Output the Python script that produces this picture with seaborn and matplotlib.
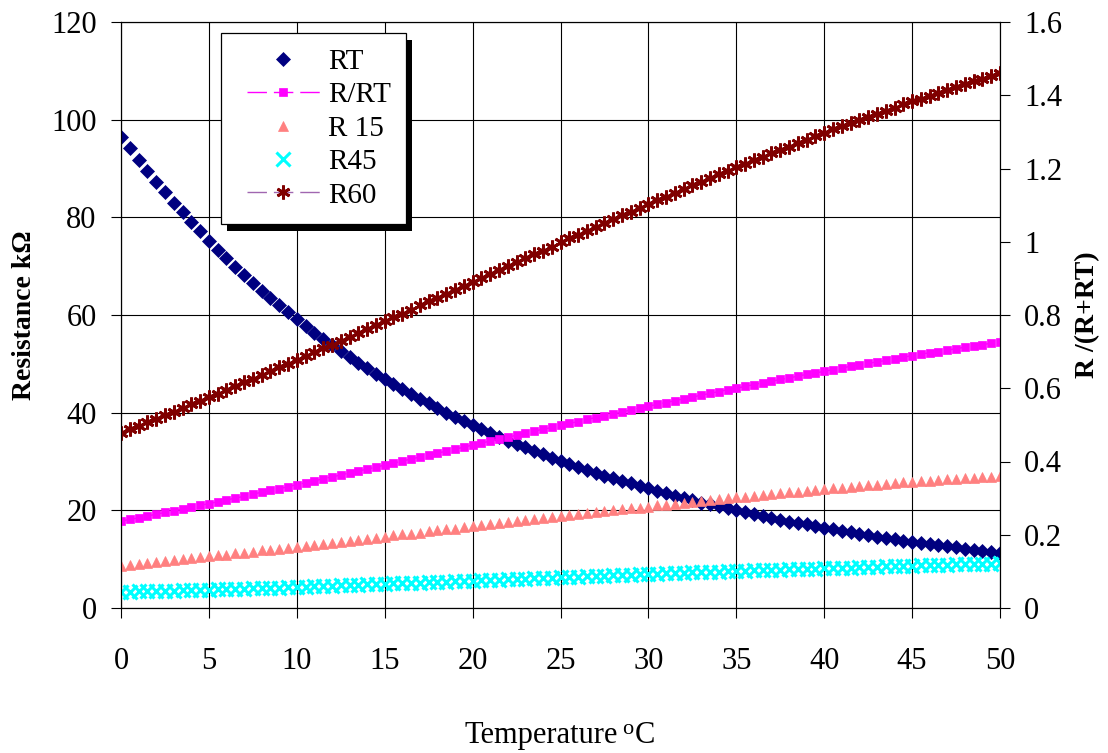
import matplotlib
matplotlib.use("Agg")
import matplotlib.pyplot as plt
from matplotlib.lines import Line2D
from matplotlib.legend_handler import HandlerLine2D
from matplotlib.patches import Rectangle
import seaborn as sns

# Temperature steps (deg C)
temperature = [
    0.0, 0.5, 1.0, 1.5, 2.0, 2.5, 3.0, 3.5, 4.0, 4.5,
    5.0, 5.5, 6.0, 6.5, 7.0, 7.5, 8.0, 8.5, 9.0, 9.5,
    10.0, 10.5, 11.0, 11.5, 12.0, 12.5, 13.0, 13.5, 14.0, 14.5,
    15.0, 15.5, 16.0, 16.5, 17.0, 17.5, 18.0, 18.5, 19.0, 19.5,
    20.0, 20.5, 21.0, 21.5, 22.0, 22.5, 23.0, 23.5, 24.0, 24.5,
    25.0, 25.5, 26.0, 26.5, 27.0, 27.5, 28.0, 28.5, 29.0, 29.5,
    30.0, 30.5, 31.0, 31.5, 32.0, 32.5, 33.0, 33.5, 34.0, 34.5,
    35.0, 35.5, 36.0, 36.5, 37.0, 37.5, 38.0, 38.5, 39.0, 39.5,
    40.0, 40.5, 41.0, 41.5, 42.0, 42.5, 43.0, 43.5, 44.0, 44.5,
    45.0, 45.5, 46.0, 46.5, 47.0, 47.5, 48.0, 48.5, 49.0, 49.5,
    50.0,
]

# Thermistor resistance (kOhm, left axis)
rt = [
    96.5, 94.1, 91.7, 89.5, 87.3, 85.1, 83.0, 81.0, 79.0, 77.1,
    75.2, 73.4, 71.6, 69.9, 68.2, 66.6, 65.0, 63.5, 62.0, 60.6,
    59.1, 57.8, 56.4, 55.1, 53.8, 52.6, 51.4, 50.2, 49.1, 48.0,
    46.9, 45.8, 44.8, 43.8, 42.8, 41.9, 40.9, 40.0, 39.2, 38.3,
    37.5, 36.6, 35.9, 35.1, 34.3, 33.6, 32.9, 32.2, 31.5, 30.8,
    30.2, 29.5, 28.9, 28.3, 27.7, 27.1, 26.6, 26.0, 25.5, 25.0,
    24.5, 24.0, 23.5, 23.0, 22.5, 22.1, 21.6, 21.2, 20.8, 20.4,
    20.0, 19.6, 19.2, 18.8, 18.5, 18.1, 17.7, 17.4, 17.1, 16.7,
    16.4, 16.1, 15.8, 15.5, 15.2, 14.9, 14.6, 14.4, 14.1, 13.8,
    13.6, 13.3, 13.1, 12.8, 12.6, 12.4, 12.1, 11.9, 11.7, 11.5,
    11.3,
]

# Divider ratios (right axis)
r_over_rt = [
    0.237, 0.242, 0.246, 0.251, 0.256, 0.261, 0.266, 0.270, 0.275, 0.280,
    0.285, 0.290, 0.295, 0.300, 0.305, 0.311, 0.316, 0.321, 0.326, 0.331,
    0.337, 0.342, 0.347, 0.353, 0.358, 0.363, 0.369, 0.374, 0.379, 0.385,
    0.390, 0.396, 0.401, 0.407, 0.412, 0.417, 0.423, 0.428, 0.434, 0.439,
    0.445, 0.450, 0.456, 0.461, 0.466, 0.472, 0.477, 0.483, 0.488, 0.493,
    0.499, 0.504, 0.509, 0.515, 0.520, 0.525, 0.530, 0.535, 0.541, 0.546,
    0.551, 0.556, 0.561, 0.566, 0.571, 0.576, 0.581, 0.586, 0.591, 0.596,
    0.600, 0.605, 0.610, 0.615, 0.619, 0.624, 0.628, 0.633, 0.638, 0.642,
    0.646, 0.651, 0.655, 0.660, 0.664, 0.668, 0.672, 0.676, 0.680, 0.685,
    0.689, 0.693, 0.697, 0.700, 0.704, 0.708, 0.712, 0.716, 0.719, 0.723,
    0.727,
]

r15 = [
    0.116, 0.118, 0.121, 0.123, 0.126, 0.128, 0.131, 0.133, 0.136, 0.138,
    0.141, 0.144, 0.146, 0.149, 0.151, 0.154, 0.157, 0.159, 0.162, 0.164,
    0.167, 0.170, 0.173, 0.175, 0.178, 0.181, 0.184, 0.187, 0.189, 0.192,
    0.195, 0.198, 0.201, 0.203, 0.206, 0.209, 0.212, 0.215, 0.217, 0.220,
    0.223, 0.226, 0.229, 0.231, 0.234, 0.237, 0.240, 0.243, 0.245, 0.248,
    0.251, 0.254, 0.256, 0.259, 0.261, 0.264, 0.267, 0.269, 0.272, 0.274,
    0.277, 0.280, 0.282, 0.285, 0.287, 0.290, 0.292, 0.295, 0.297, 0.300,
    0.302, 0.304, 0.307, 0.309, 0.311, 0.314, 0.316, 0.318, 0.320, 0.323,
    0.325, 0.327, 0.329, 0.331, 0.333, 0.335, 0.337, 0.339, 0.341, 0.343,
    0.345, 0.347, 0.348, 0.350, 0.351, 0.353, 0.355, 0.356, 0.358, 0.359,
    0.361,
]

r45 = [
    0.0440, 0.0446, 0.0452, 0.0458, 0.0464, 0.0470, 0.0476, 0.0482, 0.0488, 0.0494,
    0.0500, 0.0507, 0.0514, 0.0521, 0.0528, 0.0535, 0.0542, 0.0549, 0.0556, 0.0563,
    0.0570, 0.0579, 0.0588, 0.0597, 0.0606, 0.0615, 0.0624, 0.0633, 0.0642, 0.0651,
    0.0660, 0.0669, 0.0678, 0.0687, 0.0696, 0.0705, 0.0714, 0.0723, 0.0732, 0.0741,
    0.0750, 0.0759, 0.0768, 0.0777, 0.0786, 0.0795, 0.0804, 0.0813, 0.0822, 0.0831,
    0.0840, 0.0849, 0.0858, 0.0867, 0.0876, 0.0885, 0.0894, 0.0903, 0.0912, 0.0921,
    0.0930, 0.0938, 0.0946, 0.0954, 0.0962, 0.0970, 0.0978, 0.0986, 0.0994, 0.1002,
    0.1010, 0.1017, 0.1024, 0.1031, 0.1038, 0.1045, 0.1052, 0.1059, 0.1066, 0.1073,
    0.1080, 0.1088, 0.1096, 0.1104, 0.1112, 0.1120, 0.1128, 0.1136, 0.1144, 0.1152,
    0.1160, 0.1166, 0.1172, 0.1178, 0.1184, 0.1190, 0.1196, 0.1202, 0.1208, 0.1214,
    0.1220,
]

r60 = [
    0.478, 0.488, 0.497, 0.507, 0.517, 0.527, 0.536, 0.546, 0.556, 0.565,
    0.575, 0.585, 0.595, 0.606, 0.616, 0.626, 0.636, 0.646, 0.657, 0.667,
    0.677, 0.688, 0.698, 0.709, 0.719, 0.730, 0.741, 0.751, 0.762, 0.772,
    0.783, 0.794, 0.804, 0.815, 0.826, 0.837, 0.847, 0.858, 0.869, 0.879,
    0.890, 0.901, 0.912, 0.922, 0.933, 0.944, 0.955, 0.966, 0.976, 0.987,
    0.998, 1.009, 1.019, 1.030, 1.040, 1.051, 1.061, 1.072, 1.082, 1.093,
    1.103, 1.113, 1.123, 1.133, 1.143, 1.154, 1.164, 1.174, 1.184, 1.194,
    1.204, 1.213, 1.223, 1.232, 1.242, 1.251, 1.260, 1.270, 1.279, 1.289,
    1.298, 1.307, 1.315, 1.324, 1.332, 1.341, 1.349, 1.358, 1.366, 1.375,
    1.383, 1.391, 1.399, 1.406, 1.414, 1.422, 1.430, 1.438, 1.445, 1.453,
    1.461,
]

series_labels = ["RT", "R/RT", "R 15", "R45", "R60"]
x_ticks = [0, 5, 10, 15, 20, 25, 30, 35, 40, 45, 50]
left_ticks = [0, 20, 40, 60, 80, 100, 120]
right_ticks = [0, 0.2, 0.4, 0.6, 0.8, 1.0, 1.2, 1.4, 1.6]
right_tick_labels = ["0", "0.2", "0.4", "0.6", "0.8", "1", "1.2", "1.4", "1.6"]

sns.set_style("white")
plt.rcParams.update({
    "font.family": ["Liberation Serif", "DejaVu Serif"],
    "text.color": "black",
    "axes.edgecolor": "black",
    "xtick.color": "black",
    "ytick.color": "black",
})

W, H = 1108, 753
fig = plt.figure(figsize=(W / 100, H / 100), dpi=100)
ax = fig.add_axes([121 / W, 1 - 608 / H, 879 / W, 586 / H])
ax2 = ax.twinx()

# Primary axis: thermistor resistance
sns.lineplot(x=temperature, y=rt, ax=ax, marker="D", markersize=7.6,
             color="#000080", markeredgecolor="#000080", markeredgewidth=0.5,
             linestyle="none", label=series_labels[0], legend=False)

# Secondary axis: ratios
dash = (0, (14, 5))
sns.lineplot(x=temperature, y=r_over_rt, ax=ax2, marker="s", markersize=6.4,
             color="#FF00FF", markeredgecolor="#FF00FF", markeredgewidth=0.5,
             linewidth=1.0, linestyle=dash, label=series_labels[1], legend=False)
sns.lineplot(x=temperature, y=r15, ax=ax2, marker="^", markersize=6.6,
             color="#FF8080", markeredgecolor="#FF8080", markeredgewidth=0.5,
             linestyle="none", label=series_labels[2], legend=False)
sns.lineplot(x=temperature, y=r45, ax=ax2, marker="x", markersize=9.5,
             color="#00FFFF", markeredgecolor="#00FFFF", markeredgewidth=2.2,
             linestyle="none", label=series_labels[3], legend=False)
sns.lineplot(x=temperature, y=r60, ax=ax2, marker=(6, 2, 0), markersize=10,
             color="#A066B0", markeredgecolor="#800000", markeredgewidth=2.0,
             linewidth=1.0, linestyle=dash, label=series_labels[4], legend=False)

# Axes limits, ticks and grid
ax.set_xlim(0, 50)
ax.set_ylim(0, 120)
ax2.set_ylim(0, 1.6)
ax.set_xticks(x_ticks)
ax.set_xticklabels([str(t) for t in x_ticks])
ax.set_yticks(left_ticks)
ax.set_yticklabels([str(t) for t in left_ticks])
ax2.set_yticks(right_ticks)
ax2.set_yticklabels(right_tick_labels)
for a in (ax, ax2):
    a.set_xlabel("")
    a.set_ylabel("")
    for sp in a.spines.values():
        sp.set_color("black")
        sp.set_linewidth(0.8)

ax.grid(True, color="black", linewidth=0.8)
ax.set_axisbelow(True)
ax2.grid(False)

ax.tick_params(axis="both", which="major", direction="out", length=7, width=0.8,
               labelsize=22, bottom=True, left=True)
ax.tick_params(axis="y", pad=10.5)
ax.tick_params(axis="x", pad=21)
ax2.tick_params(axis="y", which="major", direction="out", length=7, width=0.8,
                labelsize=22, right=True, pad=10.5)

# Axis titles
fig.text(25 / W, 1 - 315 / H, "Resistance k\u03a9", rotation=90,
         ha="center", va="center", fontsize=20, fontweight="bold")
fig.text(1088 / W, 1 - 315 / H, "R /(R+RT)", rotation=90,
         ha="center", va="center", fontsize=20, fontweight="bold")

# "Temperature °C" with a raised small "o"
base_y = 1 - 743 / H
t_main = fig.text(0, base_y, "Temperature", fontsize=22, va="baseline", ha="left")
t_deg = fig.text(0, base_y + 9 / H, "o", fontsize=16, va="baseline", ha="left")
t_unit = fig.text(0, base_y, "C", fontsize=22, va="baseline", ha="left")
fig.canvas.draw()
renderer = fig.canvas.get_renderer()
w_main = t_main.get_window_extent(renderer).width
w_deg = t_deg.get_window_extent(renderer).width
w_unit = t_unit.get_window_extent(renderer).width
gap1, gap2 = 4, 2
total = w_main + gap1 + w_deg + gap2 + w_unit
x_px = 560 - total / 2
t_main.set_x(x_px / W)
t_deg.set_x((x_px + w_main + gap1) / W)
t_unit.set_x((x_px + w_main + gap1 + w_deg + gap2) / W)


class LeadInLineHandler(HandlerLine2D):
    """Line handler that leaves an empty lead-in before the sample line."""

    def __init__(self, lead=0.0, **kw):
        super().__init__(**kw)
        self.lead = lead

    def create_artists(self, legend, orig_handle, xdescent, ydescent, width,
                       height, fontsize, trans):
        lead = self.lead * fontsize
        return super().create_artists(legend, orig_handle, xdescent - lead,
                                      ydescent, width - lead, height,
                                      fontsize, trans)


h1, l1 = ax.get_legend_handles_labels()
h2, l2 = ax2.get_legend_handles_labels()
leg = ax2.legend(h1 + h2, l1 + l2, loc="upper left",
                 bbox_to_anchor=(0.1138, 0.981), borderaxespad=0,
                 fontsize=21, labelspacing=0.24, handlelength=2.86,
                 handletextpad=0.27, borderpad=0.53, numpoints=1,
                 frameon=True, fancybox=False, edgecolor="black",
                 framealpha=1, facecolor="white",
                 handler_map={Line2D: LeadInLineHandler(lead=0.36)})
leg.get_frame().set_linewidth(0.9)
leg.set_zorder(6)

# Solid drop shadow behind the legend box
fig.canvas.draw()
bb = leg.get_window_extent().transformed(fig.transFigure.inverted())
shadow = Rectangle((bb.x0 + 6 / W, bb.y0 - 7 / H), bb.width, bb.height,
                   transform=fig.transFigure, facecolor="black",
                   edgecolor="none", zorder=5.5, clip_on=False)
ax2.add_patch(shadow)

fig.savefig("out.png", dpi=100)
